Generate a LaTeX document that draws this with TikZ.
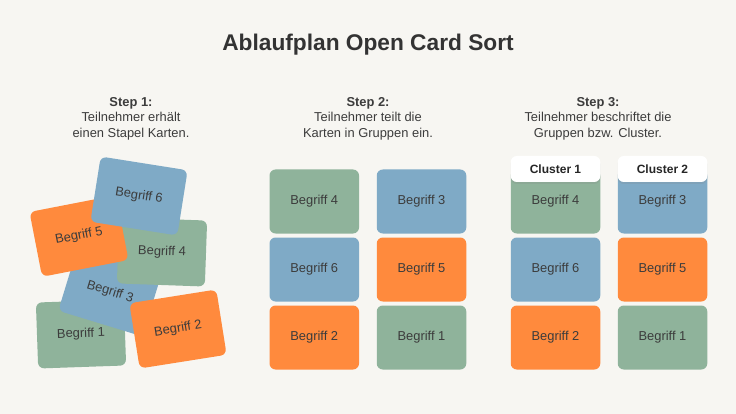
\documentclass[tikz,border=0pt]{standalone}
\usepackage{fontspec}
\setmainfont{Liberation Sans}
\usetikzlibrary{shadows}
\definecolor{bg}{HTML}{F7F6F2}
\definecolor{cgreen}{HTML}{8FB39B}
\definecolor{cblue}{HTML}{7FAAC6}
\definecolor{corange}{HTML}{FF8A3D}
\definecolor{txt}{HTML}{3C3C3C}
\definecolor{ttl}{HTML}{333333}
\begin{document}
\begin{tikzpicture}[x=1pt,y=-1pt,
  card/.style={rectangle, rounded corners=6pt, minimum width=89.5pt, minimum height=64pt,
    inner sep=0pt, text=txt, font=\fontsize{12.9}{15}\selectfont},
  scard/.style={card, minimum width=88pt, minimum height=66pt},
  gcard/.style={fill=cgreen}, bcard/.style={fill=cblue}, ocard/.style={fill=corange},
  steptext/.style={align=center, text=txt, font=\fontsize{12.9}{15.5}\selectfont},
  clabel/.style={rectangle, rounded corners=6pt, fill=white, minimum width=89.5pt, minimum height=26pt,
    inner sep=0pt, text=black!85, font=\bfseries\fontsize{12}{14}\selectfont,
    drop shadow={shadow xshift=0pt, shadow yshift=-2pt, opacity=0.18}}
]
\fill[bg] (0,0) rectangle (736,414);
\useasboundingbox (0,0) rectangle (736,414);

\node[text=ttl, font=\bfseries\fontsize{22.7}{27}\selectfont] (title) at (368,45) {Ablaufplan Open Card Sort};

\node[steptext] (s1) at (131,118.5) {\textbf{Step 1:}\\Teilnehmer erhält\\einen Stapel Karten.};
\node[steptext] (s2) at (368,118.5) {\textbf{Step 2:}\\Teilnehmer teilt die\\Karten in Gruppen ein.};
\node[steptext] (s3) at (598,118.5) {\textbf{Step 3:}\\Teilnehmer beschriftet die\\Gruppen bzw. Cluster.};

% stack
\node[scard, gcard, rotate=2] (a1) at (81,334) {Begriff 1};
\node[scard, bcard, rotate=-17] (a3) at (110,292) {Begriff 3};
\node[scard, ocard, rotate=9] (a2) at (178,329) {Begriff 2};
\node[scard, gcard, rotate=-2] (a4) at (162,252) {Begriff 4};
\node[scard, ocard, rotate=11] (a5) at (79,236) {Begriff 5};
\node[scard, bcard, rotate=-9] (a6) at (139,196) {Begriff 6};

% step 2 grid
\node[card, gcard] (b4) at (314.25,201.5) {Begriff 4};
\node[card, bcard] (b3) at (421.5,201.5) {Begriff 3};
\node[card, bcard] (b6) at (314.25,269.5) {Begriff 6};
\node[card, ocard] (b5) at (421.5,269.5) {Begriff 5};
\node[card, ocard] (b2) at (314.25,337.5) {Begriff 2};
\node[card, gcard] (b1) at (421.5,337.5) {Begriff 1};

% step 3 grid
\node[card, gcard] (c4) at (555.5,201.5) {Begriff 4};
\node[card, bcard] (c3) at (662.5,201.5) {Begriff 3};
\node[card, bcard] (c6) at (555.5,269.5) {Begriff 6};
\node[card, ocard] (c5) at (662.5,269.5) {Begriff 5};
\node[card, ocard] (c2) at (555.5,337.5) {Begriff 2};
\node[card, gcard] (c1) at (662.5,337.5) {Begriff 1};

\node[clabel] (k1) at (555.5,169) {Cluster 1};
\node[clabel] (k2) at (662.5,169) {Cluster 2};
\end{tikzpicture}
\end{document}
